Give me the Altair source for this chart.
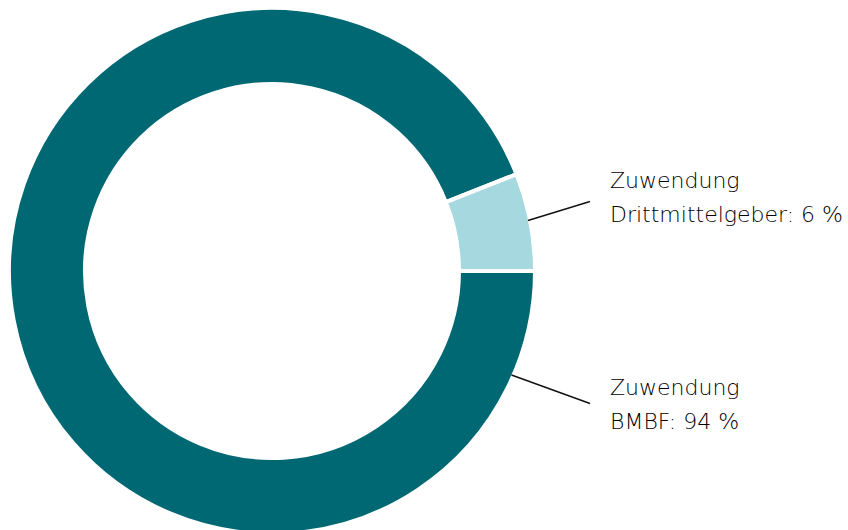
import math
import altair as alt
import pandas as pd

categories = ["BMBF", "Drittmittelgeber"]
values = [94, 6]
prefix = ["Zuwendung", "Zuwendung"]
colors = ["#006873", "#a6d8df"]

df = pd.DataFrame({
    "category": categories,
    "value": values,
    "order": list(range(len(categories))),
    "line1": prefix,
    "line2": [f"{c}: {v} %" for c, v in zip(categories, values)],
})

CX, CY = 272, 271
FONT = "DejaVu Sans"
FS = 22

arc = alt.Chart(df).mark_arc(
    outerRadius=263, innerRadius=187, stroke="white", strokeWidth=4
).encode(
    theta=alt.Theta("value:Q", stack=True,
                    scale=alt.Scale(range=[math.pi / 2, math.pi / 2 + 2 * math.pi])),
    order=alt.Order("order:Q"),
    color=alt.Color("category:N", scale=alt.Scale(domain=categories, range=colors), legend=None),
    x=alt.value(CX), y=alt.value(CY),
)

line_up = alt.Chart(df).transform_filter(alt.datum.category == "Drittmittelgeber").mark_rule(
    color="#111111", strokeWidth=1.4
).encode(x=alt.value(528), y=alt.value(220.5), x2=alt.value(590), y2=alt.value(201.5))

line_dn = alt.Chart(df).transform_filter(alt.datum.category == "BMBF").mark_rule(
    color="#111111", strokeWidth=1.4
).encode(x=alt.value(511.5), y=alt.value(375), x2=alt.value(590), y2=alt.value(403.5))

def label(cat, y):
    base = alt.Chart(df).transform_filter(alt.datum.category == cat)
    t1 = base.mark_text(align="left", baseline="alphabetic", font=FONT, fontWeight=200,
                        fontSize=FS, color="#000000").encode(
        text="line1:N", x=alt.value(610), y=alt.value(y))
    t2 = base.mark_text(align="left", baseline="alphabetic", font=FONT, fontWeight=200,
                        fontSize=FS, color="#000000").encode(
        text="line2:N", x=alt.value(610), y=alt.value(y + 33.5))
    return t1 + t2

chart = alt.layer(arc, line_up, line_dn, label("Drittmittelgeber", 188), label("BMBF", 395)).properties(
    width=848, height=530, padding=0, autosize=alt.AutoSizeParams(type="none")
).configure_view(stroke=None)

chart.save("out.html", embed_options={"renderer": "svg", "actions": False})
